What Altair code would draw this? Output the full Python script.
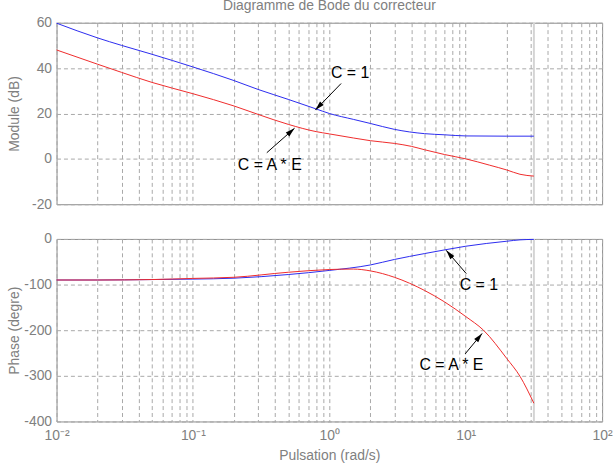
import altair as alt
import pandas as pd

# ---- Gain curves (dB) ----
W_MAG_C1 = [0.01, 0.02, 0.03, 0.05, 0.1, 0.2, 0.3, 0.5, 0.8, 1, 1.5, 2, 3, 5, 7, 10, 20, 31.6]
MAG_C1 = [59.8, 53.3, 50.0, 46.1, 40.5, 34.5, 30.6, 26.2, 22.0, 20.0, 17.4, 15.6, 13.0, 11.1, 10.6, 10.1, 10.0, 10.0]

W_MAG_AE = [0.01, 0.02, 0.03, 0.05, 0.1, 0.2, 0.3, 0.5, 0.8, 1, 1.5, 2, 3, 4, 5, 7, 10, 15, 20, 25, 31.6]
MAG_AE = [48.0, 41.7, 38.1, 33.7, 28.7, 23.3, 19.6, 15.2, 12.0, 11.0, 9.2, 8.0, 6.8, 5.5, 4.0, 1.9, 0.0, -2.8, -4.9, -6.8, -7.6]

# ---- Phase curves (deg) ----
W_PH_C1 = [0.01, 0.02, 0.05, 0.1, 0.2, 0.5, 1, 2, 3, 5, 7, 10, 20, 25, 31.6]
PH_C1 = [-90, -90, -89, -88, -86, -78, -69, -57, -45, -32, -24, -16, -5, -2, -1]

W_PH_AE = [0.01, 0.02, 0.05, 0.1, 0.2, 0.5, 1, 1.5, 2, 3, 5, 7, 10, 13.5, 20, 25, 31.6]
PH_AE = [-90, -90, -89, -86.5, -84, -73, -67, -66, -70, -84, -113, -138, -170, -200, -262, -301, -360]

SERIES = ["C = 1", "C = A * E"]
COLORS = ["#2b2bef", "#ef2b2b"]

# Light vertical marker at the end of the computed frequency range
W_END = [31.62]

# Annotations: label position, arrow tail, arrow tip, arrow head angle
MAG_NOTES = {
    "txt": ["C = 1", "C = A * E"],
    "wt": [1.42, 0.366], "vt": [38.0, -2.9],
    "w0": [1.22, 0.348], "v0": [33.2, 2.7],
    "w1": [0.79, 0.556], "v1": [21.5, 13.5],
    "ang": [224, 48],
}
PH_NOTES = {
    "txt": ["C = 1", "C = A * E"],
    "wt": [12.5, 7.86], "vt": [-100, -276],
    "w0": [10.1, 9.9], "v0": [-76, -252],
    "w1": [7.2, 13.2], "v1": [-25, -207],
    "ang": [320, 39],
}

# grid positions on the log axis (1..9 per decade)
X_GRID = [round(m * 10.0 ** e, 6) for e in range(-2, 2) for m in range(1, 10)] + [100]

FONT = "Liberation Sans"
GRAY = "#808080"
ARROW = "M0,0L0.55,2L-0.55,2Z"


def curves(pairs):
    frames = [pd.DataFrame({"w": w, "v": v, "serie": s}) for w, v, s in pairs]
    return pd.concat(frames, ignore_index=True)


mag_df = curves([(W_MAG_C1, MAG_C1, SERIES[0]), (W_MAG_AE, MAG_AE, SERIES[1])])
ph_df = curves([(W_PH_C1, PH_C1, SERIES[0]), (W_PH_AE, PH_AE, SERIES[1])])

x_scale = alt.Scale(type="log", domain=[0.01, 100], nice=False)

LABEL_EXPR = (
    "datum.value == 0.01 ? '10⁻²' : datum.value == 0.1 ? '10⁻¹' : "
    "datum.value == 1 ? '10⁰' : datum.value == 10 ? '10¹' : "
    "datum.value == 100 ? '10²' : ''"
)


def panel(df, notes, y_dom, y_vals, y_title, height, bottom):
    if bottom:
        x_axis = alt.Axis(values=X_GRID, labelExpr=LABEL_EXPR, labelOverlap=False,
                          labelFlush=False, labelBound=False, labelPadding=7,
                          title="Pulsation (rad/s)", titlePadding=6)
    else:
        x_axis = alt.Axis(values=X_GRID, labels=False, title=None)
    y_axis = alt.Axis(values=y_vals, labelExpr="'' + datum.value", title=y_title,
                      titleX=-42, titleBaseline="middle", titleAngle=270, labelPadding=5)
    y_scale = alt.Scale(domain=y_dom, nice=False)

    edge = alt.Chart(pd.DataFrame({"w": W_END})).mark_rule(
        color="#d4d4d4", strokeWidth=2
    ).encode(x=alt.X("w:Q", scale=x_scale, axis=x_axis))

    lines = alt.Chart(df).mark_line(strokeWidth=1, interpolate="monotone").encode(
        x=alt.X("w:Q", scale=x_scale, axis=x_axis),
        y=alt.Y("v:Q", scale=y_scale, axis=y_axis),
        color=alt.Color("serie:N", scale=alt.Scale(domain=SERIES, range=COLORS), legend=None),
    )

    nd = pd.DataFrame(notes)
    shaft = alt.Chart(nd).mark_rule(color="black", strokeWidth=1).encode(
        x=alt.X("w0:Q", scale=x_scale, axis=x_axis),
        y=alt.Y("v0:Q", scale=y_scale, axis=y_axis),
        x2="w1:Q", y2="v1:Q",
    )
    head = alt.Chart(nd).mark_point(shape=ARROW, filled=True, color="black",
                                    size=90, opacity=1).encode(
        x=alt.X("w1:Q", scale=x_scale, axis=x_axis),
        y=alt.Y("v1:Q", scale=y_scale, axis=y_axis),
        angle=alt.Angle("ang:Q", scale=None),
    )
    label = alt.Chart(nd).mark_text(font=FONT, fontSize=16, color="black").encode(
        x=alt.X("wt:Q", scale=x_scale, axis=x_axis),
        y=alt.Y("vt:Q", scale=y_scale, axis=y_axis),
        text="txt:N",
    )
    return alt.layer(edge, lines, shaft, head, label).properties(width=550, height=height)


top = panel(mag_df, MAG_NOTES, [-20, 60], [-20, 0, 20, 40, 60], "Module (dB)", 183, False)
top = top.properties(title=alt.TitleParams(
    "Diagramme de Bode du correcteur", fontSize=14, font=FONT, fontWeight="normal",
    color=GRAY, anchor="middle", frame="group", offset=3,
))
bottom = panel(ph_df, PH_NOTES, [-400, 0], [-400, -300, -200, -100, 0], "Phase (degre)", 184, True)

chart = alt.vconcat(top, bottom, spacing=19).properties(
    padding={"left": 7, "top": -4, "right": 0, "bottom": 0}
).configure_view(
    stroke="#8c8c8c", strokeWidth=1
).configure_axis(
    grid=True, gridColor="#a8a8a8", gridDash=[4, 3], gridWidth=1, gridOpacity=1,
    domain=False, ticks=False,
    labelFont=FONT, labelFontSize=14, labelColor=GRAY,
    titleFont=FONT, titleFontSize=14, titleColor=GRAY, titleFontWeight="normal",
)

chart.save("out.html", embed_options={"renderer": "svg", "actions": False})
